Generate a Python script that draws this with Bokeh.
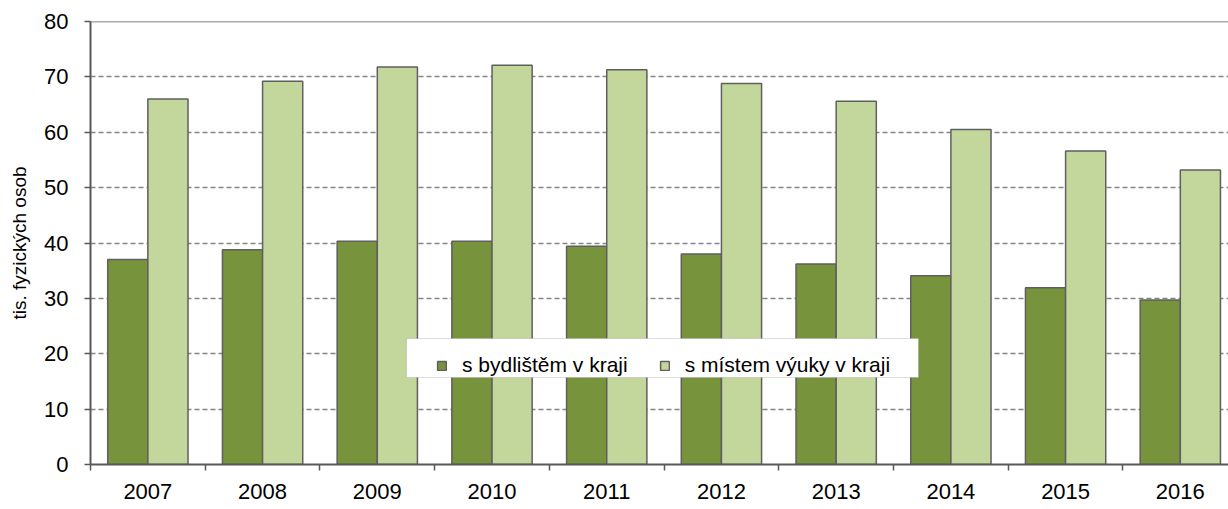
from bokeh.plotting import figure
from bokeh.models import ColumnDataSource, FixedTicker, Span, Legend, LegendItem, Range1d, BoxAnnotation
from bokeh.transform import dodge
from bokeh.embed import file_html
from bokeh.resources import INLINE

years = ["2007", "2008", "2009", "2010", "2011", "2012", "2013", "2014", "2015", "2016"]
bydliste = [37.0, 38.8, 40.3, 40.3, 39.4, 38.0, 36.2, 34.1, 31.9, 29.7]
vyuka = [66.0, 69.2, 71.8, 72.1, 71.3, 68.8, 65.6, 60.5, 56.6, 53.2]
y_ticks = [0, 10, 20, 30, 40, 50, 60, 70, 80]
series_names = ["s bydlištěm v kraji", "s místem výuky v kraji"]

FONT = "Liberation Sans"
DARK = "#77933C"
LIGHT = "#C3D69B"
EDGE = "#5f5f5f"
AXIS = "#595959"

idx = [i + 0.5 for i in range(len(years))]
src = ColumnDataSource(dict(x=idx, a=bydliste, b=vyuka))

p = figure(width=1228, height=509, output_backend="svg", toolbar_location=None,
           x_range=Range1d(0, 9.92), y_range=Range1d(0, 80),
           min_border_left=90, min_border_right=0, min_border_top=21, min_border_bottom=45)
p.outline_line_color = None
p.background_fill_color = "white"
p.border_fill_color = "white"

bw = 0.35
r1 = p.vbar(x=dodge("x", -bw / 2), top="a", width=bw, source=src,
            fill_color=DARK, line_color=EDGE, line_width=1.5)
r2 = p.vbar(x=dodge("x", bw / 2), top="b", width=bw, source=src,
            fill_color=LIGHT, line_color=EDGE, line_width=1.5)

# grid
p.xgrid.grid_line_color = None
p.ygrid.ticker = FixedTicker(ticks=y_ticks[1:-1])
p.ygrid.grid_line_color = "#858585"
p.ygrid.grid_line_dash = "5 3"
p.ygrid.grid_line_width = 1.4
p.ygrid.level = "underlay"

top = Span(location=80, dimension="width", line_color=AXIS, line_width=1.5)
p.add_layout(top)

# x axis
xa = p.xaxis[0]
xa.ticker = FixedTicker(ticks=idx, minor_ticks=list(range(len(years) + 1)))
xa.major_label_overrides = {v: y for v, y in zip(idx, years)}
xa.major_tick_out = 0
xa.major_tick_in = 0
xa.minor_tick_out = 6
xa.minor_tick_in = 0
xa.minor_tick_line_color = AXIS
xa.minor_tick_line_width = 1.5
xa.axis_line_color = AXIS
xa.axis_line_width = 2
xa.major_label_text_font = FONT
xa.major_label_text_font_size = "22px"
xa.major_label_text_color = "black"
xa.major_label_standoff = 13

# y axis
ya = p.yaxis[0]
ya.ticker = FixedTicker(ticks=y_ticks)
ya.major_tick_out = 6
ya.major_tick_in = 0
ya.minor_tick_out = 0
ya.minor_tick_in = 0
ya.major_tick_line_color = AXIS
ya.major_tick_line_width = 1.5
ya.axis_line_color = AXIS
ya.axis_line_width = 2
ya.major_label_text_font = FONT
ya.major_label_text_font_size = "22px"
ya.major_label_text_color = "black"
ya.major_label_standoff = 16
ya.axis_label = "tis. fyzických osob"
ya.axis_label_text_font = FONT
ya.axis_label_text_font_size = "19px"
ya.axis_label_text_font_style = "normal"
ya.axis_label_text_color = "black"
ya.axis_label_standoff = 11

# legend box
box = BoxAnnotation(left=406, right=918, top=338, bottom=377,
                    left_units="canvas", right_units="canvas",
                    top_units="canvas", bottom_units="canvas",
                    fill_color="white", fill_alpha=1.0,
                    line_color="#8a8a8a", line_width=1.2)
p.add_layout(box)

legend = Legend(items=[LegendItem(label=series_names[0], renderers=[r1]),
                       LegendItem(label=series_names[1], renderers=[r2])],
                orientation="horizontal", location=(346, 87))
legend.label_text_font = FONT
legend.label_text_font_size = "21px"
legend.label_text_color = "black"
legend.glyph_width = 11
legend.glyph_height = 11
legend.label_standoff = 15
legend.spacing = 31
legend.padding = 10
legend.margin = 0
legend.label_height = 19
legend.border_line_color = None
legend.background_fill_alpha = 0.0
p.add_layout(legend, "center")

open("out.html", "w").write(file_html(p, INLINE))
